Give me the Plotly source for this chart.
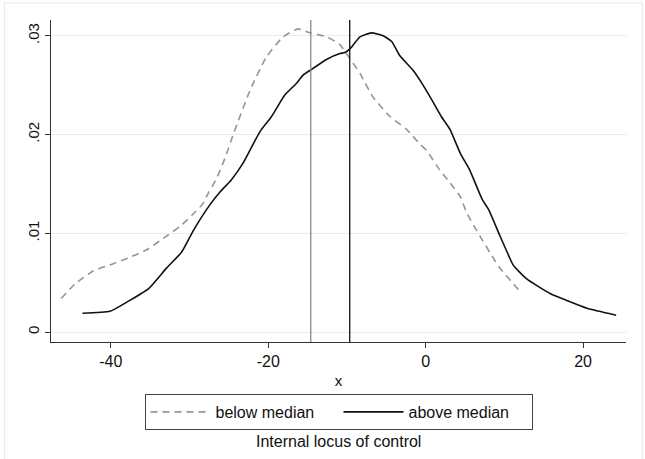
import plotly.graph_objects as go

# below median (dashed gray) kernel density
below_x = [-46.3, -44.5, -42.2, -40.1, -37.8, -35.5, -33.3, -31.2, -29.6, -28.3, -27.6, -26.6, -25.5,
           -24.4, -22.3, -20.2, -18.1, -16.2, -14.7, -12.6, -10.9, -9.8, -8.35, -6.7, -4.5,
           -2.4, -0.7, 0.1, 1.8, 3.1, 4.4, 5.2, 6.9, 8.2, 9.4, 10.8, 12.2]
below_y = [0.0034, 0.0049, 0.0062, 0.0068, 0.0075, 0.0083, 0.0095, 0.0107, 0.0119, 0.0130, 0.0141, 0.0155, 0.0176,
           0.0201, 0.0245, 0.0279, 0.0299, 0.0307, 0.0303, 0.0299, 0.0291, 0.0279, 0.0262, 0.0238, 0.0218,
           0.0205, 0.0190, 0.0184, 0.0164, 0.0151, 0.0137, 0.0121, 0.0097, 0.0080, 0.0065, 0.0052, 0.0039]

# above median (solid black) kernel density
above_x = [-43.6, -40.1, -37.6, -35.2, -32.9, -31.0, -29.5, -27.4, -26.1, -24.7, -23.2, -21.05, -19.6,
           -17.9, -16.4, -15.6, -14.3, -12.6, -10.9, -10.25, -9.6, -8.35, -6.9, -5.4, -4.3, -3.3,
           -1.6, -0.1, 1.0, 2.0, 3.1, 4.4, 5.6, 7.2, 8.0, 9.4, 10.4, 11.1, 12.8, 15.8, 17.9, 20.5, 24.2]
above_y = [0.0019, 0.0021, 0.0032, 0.0044, 0.0065, 0.0081, 0.0103, 0.0129, 0.0142, 0.0154, 0.0171, 0.0203, 0.0218,
           0.0240, 0.0252, 0.0260, 0.0267, 0.0276, 0.0282, 0.0283, 0.0287, 0.0299, 0.0303, 0.0300, 0.0294, 0.0280,
           0.0265, 0.0247, 0.0232, 0.0218, 0.0205, 0.0181, 0.0164, 0.0134, 0.0124, 0.0098, 0.0080, 0.0068, 0.0054, 0.0039, 0.0032, 0.0024, 0.0017]

# medians (vertical lines)
median_below = -14.6
median_above = -9.65

series_names = ["below median", "above median"]
x_ticks = [-40, -20, 0, 20]
x_tick_labels = ["-40", "-20", "0", "20"]
y_ticks = [0, 0.01, 0.02, 0.03]
y_tick_labels = ["0", ".01", ".02", ".03"]

FONT = "Liberation Sans, Arial, sans-serif"
GRID = "#e4ecef"

fig = go.Figure()
fig.add_trace(go.Scatter(x=below_x, y=below_y, mode="lines", name=series_names[0],
                         line=dict(color="#969696", width=1.6, dash="7px,5px", shape="spline", smoothing=0.5)))
fig.add_trace(go.Scatter(x=above_x, y=above_y, mode="lines", name=series_names[1],
                         line=dict(color="#111111", width=1.6, shape="spline", smoothing=0.5)))

fig.add_shape(type="line", xref="x", yref="paper", x0=median_below, x1=median_below, y0=0, y1=1,
              line=dict(color="#8a8a8a", width=1.3))
fig.add_shape(type="line", xref="x", yref="paper", x0=median_above, x1=median_above, y0=0, y1=1,
              line=dict(color="#111111", width=1.3))

# outer graph region frame
fig.add_shape(type="rect", xref="paper", yref="paper", x0=-0.0809, x1=1.0287, y0=-0.40, y1=1.0528,
              line=dict(color="#e6eef1", width=1.2), layer="below")

fig.add_annotation(text="Internal locus of control", xref="paper", yref="paper", x=0.5, y=-0.3075,
                   showarrow=False, font=dict(family=FONT, size=16, color="#111111"),
                   xanchor="center", yanchor="middle")

fig.update_layout(
    width=645, height=459,
    margin=dict(l=51, r=19, t=20, b=117),
    paper_bgcolor="white", plot_bgcolor="white",
    font=dict(family=FONT, color="#111111"),
    showlegend=True,
    legend=dict(orientation="h", x=0.5, xanchor="center", y=-0.1615, yanchor="top",
                bordercolor="#444444", borderwidth=1, font=dict(size=16, family=FONT),
                itemwidth=60, entrywidth=118, entrywidthmode="pixels", traceorder="normal",
                tracegroupgap=0),
    xaxis=dict(range=[-47.6, 25.45], tickvals=x_ticks, ticktext=x_tick_labels,
               showgrid=False, zeroline=False, showline=True, linecolor="#333333", linewidth=1.2,
               ticks="outside", ticklen=5, tickcolor="#333333",
               tickfont=dict(size=16, family=FONT),
               title=dict(text="x", font=dict(size=15, family=FONT), standoff=6)),
    yaxis=dict(range=[-0.00101, 0.0316], tickvals=y_ticks, ticktext=y_tick_labels,
               showgrid=True, gridcolor=GRID, gridwidth=1, zeroline=False,
               showline=True, linecolor="#333333", linewidth=1.2,
               ticks="outside", ticklen=5, tickcolor="#333333", tickangle=-90,
               tickfont=dict(size=15, family=FONT)),
)

fig.write_html("out.html")
